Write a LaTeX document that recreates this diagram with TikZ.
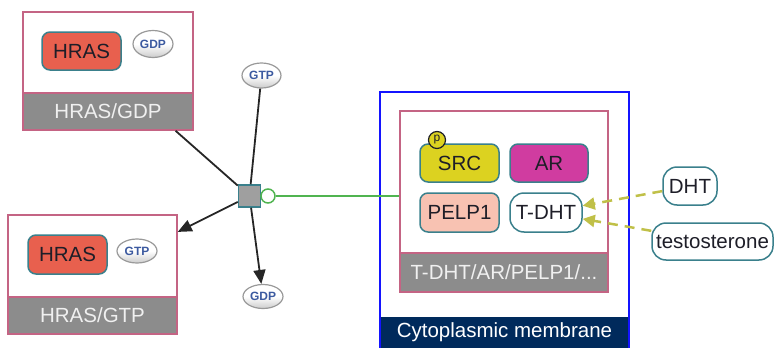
\documentclass[tikz,border=0pt]{standalone}
\usepackage{fontspec}
\setmainfont{Liberation Sans}
\usetikzlibrary{arrows.meta,shapes.geometric}

\definecolor{cplxline}{RGB}{196,100,132}
\definecolor{bandgray}{RGB}{140,140,140}
\definecolor{bandtext}{RGB}{240,240,240}
\definecolor{protline}{RGB}{58,128,140}
\definecolor{hrasred}{RGB}{232,96,78}
\definecolor{srcyel}{RGB}{220,210,32}
\definecolor{armag}{RGB}{208,60,160}
\definecolor{pelppink}{RGB}{248,194,178}
\definecolor{compblue}{RGB}{20,20,255}
\definecolor{compnavy}{RGB}{0,42,92}
\definecolor{olive}{RGB}{192,192,72}
\definecolor{grn}{RGB}{80,180,80}
\definecolor{molblue}{RGB}{60,90,160}
\definecolor{txt}{RGB}{30,30,40}

\newcommand{\bigtxt}{\fontsize{20.5}{24}\selectfont}
\newcommand{\smalltxt}{\fontsize{12}{14}\selectfont}

\begin{document}
\begin{tikzpicture}[x=1pt,y=-1pt,
  cplx/.style={draw=cplxline,line width=1.5pt,fill=white,inner sep=0pt},
  band/.style={draw=cplxline,line width=1.5pt,fill=bandgray,text=bandtext,inner sep=0pt,font=\bigtxt},
  prot/.style={draw=protline,line width=1.5pt,rounded corners=8pt,inner sep=0pt,text=txt,font=\bigtxt},
  pill/.style={prot,rounded corners=14pt},
  mol/.style={ellipse,draw=gray!80,line width=1.2pt,top color=white,bottom color=gray!40,middle color=white,inner sep=0pt,text=molblue,font=\smalltxt\bfseries},
  conn/.style={draw=black!85,line width=1.8pt},
  tip/.style={-{Triangle[length=14pt,width=12pt]}},
  dasharr/.style={draw=olive,line width=2.5pt,dash pattern=on 10pt off 7pt,-{Triangle[length=12pt,width=12pt]}}
]
\useasboundingbox (0,0) rectangle (774,348);

% compartment
\node[draw=compblue,line width=1.5pt,minimum width=249pt,minimum height=256pt,inner sep=0pt] (comp) at (504.5,220) {};
\node[fill=compnavy,text=white,font=\bigtxt,minimum width=247pt,minimum height=31pt,inner sep=0pt] (compband) at (504.5,332) {Cytoplasmic membrane};

% HRAS/GDP complex
\node[cplx,minimum width=170pt,minimum height=118pt] (gdpcplx) at (108,71) {};
\node[band,minimum width=170pt,minimum height=37pt] (gdpband) at (108,111.5) {HRAS/GDP};
\node[prot,fill=hrasred,minimum width=79pt,minimum height=38pt] (hras1) at (81.5,51) {HRAS};
\node[mol,minimum width=40pt,minimum height=27pt] (gdp1) at (153,44) {GDP};

% HRAS/GTP complex
\node[cplx,minimum width=169pt,minimum height=119pt] (gtpcplx) at (92.5,274.5) {};
\node[band,minimum width=169pt,minimum height=37pt] (gtpband) at (92.5,315.5) {HRAS/GTP};
\node[prot,fill=hrasred,minimum width=79pt,minimum height=39pt] (hras2) at (67.5,254.5) {HRAS};
\node[mol,minimum width=40pt,minimum height=24pt] (gtp2) at (137,251) {GTP};

% T-DHT/AR/PELP1/SRC complex
\node[cplx,minimum width=208pt,minimum height=181pt] (incplx) at (504,201.5) {};
\node[band,minimum width=208pt,minimum height=39pt] (inband) at (504,272.5) {T-DHT/AR/PELP1/...};
\node[prot,fill=srcyel,minimum width=79pt,minimum height=38pt] (src) at (459.5,163) {SRC};
\node[prot,fill=armag,minimum width=78pt,minimum height=38pt] (ar) at (549,163) {AR};
\node[prot,fill=pelppink,minimum width=79pt,minimum height=39pt] (pelp) at (459.5,212.5) {PELP1};
\node[pill,fill=white,minimum width=72pt,minimum height=39pt] (tdht) at (546,212.5) {T-DHT};
\node[circle,draw=txt,line width=1.2pt,fill=srcyel,minimum size=17pt,inner sep=0pt,font=\smalltxt,text=txt] (psite) at (437,140) {p};

% small molecules
\node[mol,minimum width=39pt,minimum height=25pt] (gtptop) at (261.5,75.5) {GTP};
\node[mol,minimum width=40pt,minimum height=24pt] (gdpbot) at (263,296.5) {GDP};
\node[pill,fill=white,minimum width=54pt,minimum height=38pt] (dht) at (690,186) {DHT};
\node[pill,fill=white,minimum width=121pt,minimum height=37pt] (testo) at (712.5,241.5) {testosterone};

% process
\node[draw=protline,line width=1.5pt,fill=gray!75,minimum size=22pt,inner sep=0pt] (sq) at (249.5,196) {};
\draw[conn] (gdpcplx) -- (sq);
\draw[conn] (gtptop) -- (sq);
\draw[conn,tip] (sq) -- (gtpcplx);
\draw[conn,tip] (sq) -- (gdpbot);
\node[circle,draw=grn,line width=1.5pt,fill=white,minimum size=14pt,inner sep=0pt] (mod) at (268,196) {};
\draw[grn,line width=1.5pt] (mod.east) -- (incplx.west |- mod.east);
\draw[dasharr] (dht) -- (tdht);
\draw[dasharr] (testo) -- (tdht);
\end{tikzpicture}
\end{document}
